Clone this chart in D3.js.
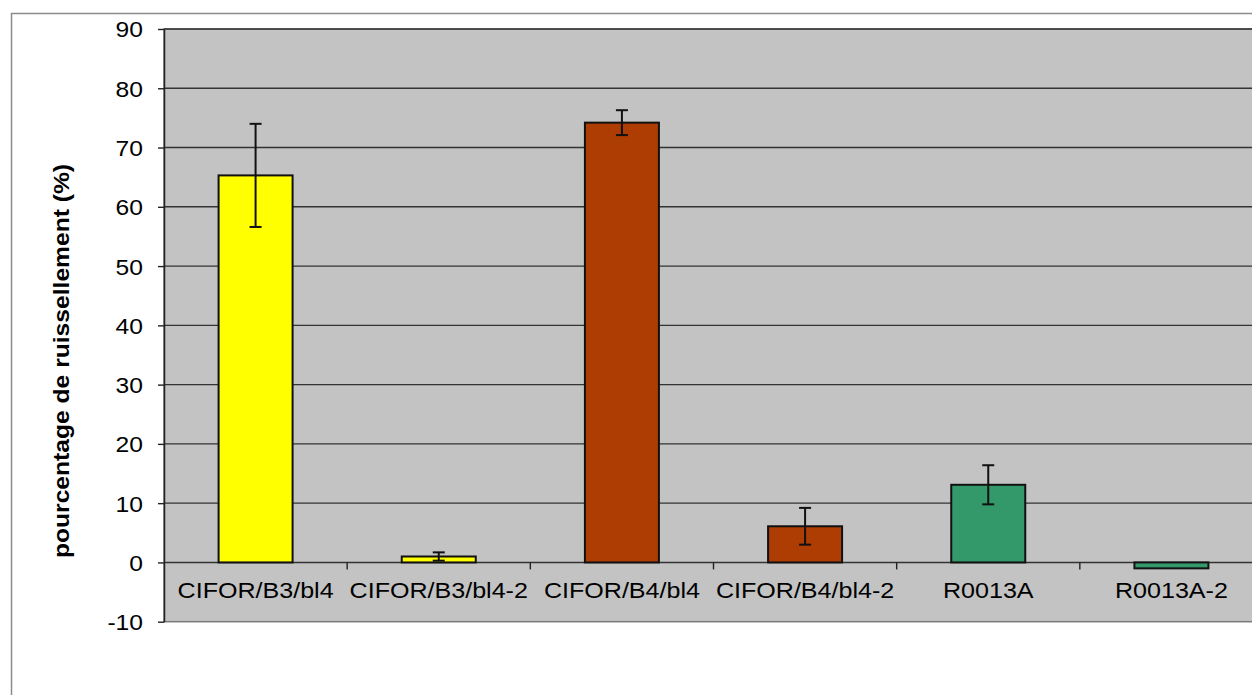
<!DOCTYPE html>
<html>
<head>
<meta charset="utf-8">
<script src="https://cdn.jsdelivr.net/npm/d3@7"></script>
<style>
  html, body { margin: 0; padding: 0; background: #ffffff; }
  svg { display: block; }
  text { font-family: "Liberation Sans", Arial, sans-serif; fill: #000; }
</style>
</head>
<body>
<svg id="chart" width="1252" height="695"></svg>
<script>
// ---- data ----
const categories = ["CIFOR/B3/bl4", "CIFOR/B3/bl4-2", "CIFOR/B4/bl4", "CIFOR/B4/bl4-2", "R0013A", "R0013A-2"];
const values = [65.3, 1.0, 74.2, 6.1, 13.1, -1.0];
const errors = [8.7, 0.7, 2.1, 3.1, 3.3, 0];
const barColors = ["#FFFF00", "#FFFF00", "#AE3D04", "#AE3D04", "#33996B", "#33996B"];
const yTicks = [-10, 0, 10, 20, 30, 40, 50, 60, 70, 80, 90];
const yTitle = "pourcentage de ruissellement (%)";

// ---- layout ----
const svg = d3.select("#chart");
const plot = { left: 164, top: 29, right: 1263, bottom: 621.7 };
const stretch = 1.12;

const x = d3.scaleBand().domain(categories).range([plot.left, plot.right]).padding(0);
const y = d3.scaleLinear().domain([-10, 90]).range([plot.bottom, plot.top]);

// outer chart border
svg.append("rect")
  .attr("x", 11.5).attr("y", 13.5)
  .attr("width", 1300).attr("height", 800)
  .attr("fill", "#ffffff").attr("stroke", "#8c8c8c").attr("stroke-width", 1.5);

// plot area
svg.append("rect")
  .attr("x", plot.left).attr("y", plot.top)
  .attr("width", plot.right - plot.left).attr("height", plot.bottom - plot.top)
  .attr("fill", "#C3C3C3").attr("stroke", "#7a7a7a").attr("stroke-width", 1.5);

// gridlines
svg.append("g").selectAll("line")
  .data(yTicks.filter(d => d > -10))
  .join("line")
  .attr("x1", plot.left).attr("x2", plot.right)
  .attr("y1", d => y(d)).attr("y2", d => y(d))
  .attr("stroke", "#333").attr("stroke-width", 1.4);

// y axis
const yAxis = svg.append("g").attr("transform", `translate(${plot.left},0)`)
  .call(d3.axisLeft(y).tickValues(yTicks).tickSize(6).tickPadding(0).tickSizeOuter(0));
yAxis.select(".domain").attr("stroke", "#222").attr("stroke-width", 1.5);
yAxis.selectAll(".tick line").attr("stroke", "#222").attr("stroke-width", 1.4);
yAxis.selectAll(".tick text").remove();
yAxis.selectAll(".tick").append("text")
  .attr("text-anchor", "end")
  .attr("dy", "0.36em")
  .attr("transform", `translate(-21,0) scale(${stretch},1)`)
  .style("font-size", "22px")
  .text(d => d);

// x category ticks (boundaries)
const boundaries = categories.slice(1).map(c => x(c));
svg.append("g").selectAll("line")
  .data(boundaries)
  .join("line")
  .attr("x1", d => d).attr("x2", d => d)
  .attr("y1", y(0)).attr("y2", y(0) + 7)
  .attr("stroke", "#222").attr("stroke-width", 1.4);

// category labels
svg.append("g").selectAll("text")
  .data(categories)
  .join("text")
  .attr("text-anchor", "middle")
  .attr("transform", d => `translate(${x(d) + x.bandwidth() / 2},${y(0) + 36}) scale(${stretch + 0.02},1)`)
  .style("font-size", "22px")
  .text(d => d);

// bars
const barW = x.bandwidth() * 0.404;
svg.append("g").selectAll("rect")
  .data(categories)
  .join("rect")
  .attr("x", d => x(d) + x.bandwidth() / 2 - barW / 2)
  .attr("width", barW)
  .attr("y", (d, i) => y(Math.max(0, values[i])))
  .attr("height", (d, i) => Math.abs(y(values[i]) - y(0)))
  .attr("fill", (d, i) => barColors[i])
  .attr("stroke", "#111").attr("stroke-width", 2);

// error bars
const eb = svg.append("g").attr("stroke", "#111").attr("stroke-width", 2);
categories.forEach((c, i) => {
  if (errors[i] <= 0) return;
  const cx = x(c) + x.bandwidth() / 2;
  const top = y(values[i] + errors[i]);
  const bot = y(values[i] - errors[i]);
  eb.append("line").attr("x1", cx).attr("x2", cx).attr("y1", top).attr("y2", bot);
  eb.append("line").attr("x1", cx - 6).attr("x2", cx + 6).attr("y1", top).attr("y2", top);
  eb.append("line").attr("x1", cx - 6).attr("x2", cx + 6).attr("y1", bot).attr("y2", bot);
});

// y title
svg.append("text")
  .attr("text-anchor", "middle")
  .attr("transform", `translate(69,361) rotate(-90) scale(${stretch},1)`)
  .style("font-size", "22px").style("font-weight", "bold")
  .text(yTitle);
</script>
</body>
</html>
